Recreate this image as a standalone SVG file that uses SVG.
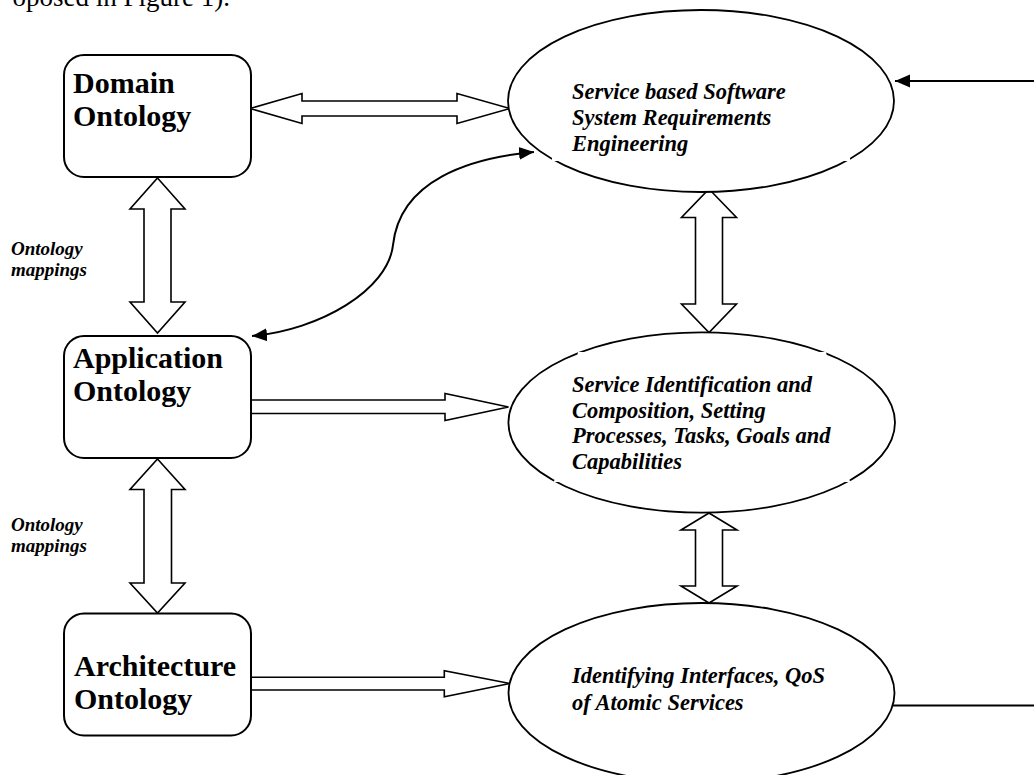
<svg xmlns="http://www.w3.org/2000/svg" width="1034" height="775" viewBox="0 0 1034 775">
<style>
.box{fill:#fff;stroke:#000;stroke-width:2}
.ell{fill:#fff;stroke:#000;stroke-width:1.8}
.blk{fill:#fff;stroke:#000;stroke-width:1.6;stroke-linejoin:miter}
.ln{fill:none;stroke:#000;stroke-width:2}
.ttl{font-family:"Liberation Serif","Times New Roman",serif;font-weight:bold;font-size:30px;fill:#000}
.etx{font-family:"Liberation Serif","Times New Roman",serif;font-weight:bold;font-style:italic;font-size:22.5px;fill:#000}
.lbl{font-family:"Liberation Serif","Times New Roman",serif;font-weight:bold;font-style:italic;font-size:19px;fill:#000}
.pg{font-family:"Liberation Serif","Times New Roman",serif;font-size:27px;fill:#000}
.bg{fill:#fff;stroke:none}
</style>
<defs>
<marker id="ah" markerUnits="userSpaceOnUse" markerWidth="16" markerHeight="14" refX="15" refY="6.5" orient="auto-start-reverse" viewBox="0 0 16 13">
<path d="M0,0 L15,6.5 L0,13 Z" fill="#000"/>
</marker>
</defs>
<rect width="1034" height="775" fill="#fff"/>
<text class="pg" x="230" y="5.5" text-anchor="end">oposed in Figure 1).</text>

<g id="connectors">
<polygon class="blk" points="250,108.5 302,93.5 302,101 457,101 457,93.5 510,108.5 457,123.5 457,116 302,116 302,123.5"/>
<polygon class="blk" points="157.5,178 185,209 171,209 171,302 185,302 157.5,333 130,302 144,302 144,209 130,209"/>
<polygon class="blk" points="157.5,459 185,489.5 171.5,489.5 171.5,583 185,583 157.5,613 130,583 144,583 144,489.5 130,489.5"/>
<polygon class="blk" points="709,189 736.5,217.5 722.5,217.5 722.5,304 736.5,304 709,332.5 681.5,304 695.5,304 695.5,217.5 681.5,217.5"/>
<polygon class="blk" points="709,513 737,530 722.5,530 722.5,586 737,586 709,603 681,586 695.5,586 695.5,530 681,530"/>
<polygon class="blk" points="251,400 445,400 445,393.5 508.5,407 445,420.5 445,413.5 251,413.5"/>
<polygon class="blk" points="251,677.3 444.3,677.3 444.3,670.7 510,683.5 444.3,696.7 444.3,690 251,690"/>
<path class="ln" d="M534,152 C470,158 400,180 393,245 C388,290 320,330 252,336" marker-start="url(#ah)" marker-end="url(#ah)"/>
<line class="ln" x1="1034" y1="81" x2="895" y2="81" marker-end="url(#ah)"/>
<line class="ln" x1="892.5" y1="705.5" x2="1034" y2="705.5"/>
</g>

<g id="domain-ontology">
<rect class="box" x="64" y="55" width="187" height="122" rx="20" ry="20"/>
<text class="ttl" x="73" y="93">Domain</text>
<text class="ttl" x="73" y="126">Ontology</text>
</g>

<g id="application-ontology">
<rect class="box" x="64" y="336" width="187" height="122" rx="20" ry="20"/>
<text class="ttl" x="73" y="368">Application</text>
<text class="ttl" x="73" y="401">Ontology</text>
</g>

<g id="architecture-ontology">
<rect class="box" x="64" y="613.5" width="187" height="122" rx="20" ry="20"/>
<text class="ttl" x="74" y="676">Architecture</text>
<text class="ttl" x="74" y="709">Ontology</text>
</g>

<g id="label-mappings-1">
<text class="lbl" x="11" y="255">Ontology</text>
<text class="lbl" x="11" y="276">mappings</text>
</g>

<g id="label-mappings-2">
<text class="lbl" x="11" y="531">Ontology</text>
<text class="lbl" x="11" y="552">mappings</text>
</g>

<g id="requirements-engineering">
<ellipse class="ell" cx="701" cy="101" rx="193" ry="91"/>
<rect class="bg" x="552" y="60" width="298" height="101"/>
<text class="etx" x="572" y="99">Service based Software</text>
<text class="etx" x="572" y="125">System Requirements</text>
<text class="etx" x="572" y="151">Engineering</text>
</g>

<g id="service-identification">
<ellipse class="ell" cx="701.7" cy="422.5" rx="193.3" ry="90.2"/>
<polygon class="bg" points="578,352 826,352 850,482 554,482"/>
<text class="etx" x="572" y="392">Service Identification and</text>
<text class="etx" x="572" y="417.5">Composition, Setting</text>
<text class="etx" x="572" y="443">Processes, Tasks, Goals and</text>
<text class="etx" x="572" y="468.5">Capabilities</text>
</g>

<g id="atomic-services">
<ellipse class="ell" cx="701.5" cy="693" rx="193" ry="90"/>
<text class="etx" x="572" y="683">Identifying Interfaces, QoS</text>
<text class="etx" x="572" y="709.5">of Atomic Services</text>
</g>
</svg>
